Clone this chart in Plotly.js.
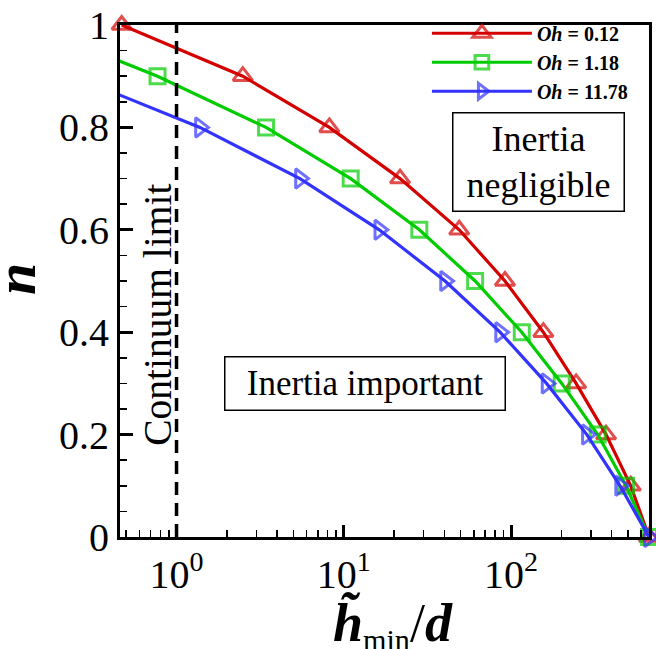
<!DOCTYPE html>
<html><head><meta charset="utf-8">
<script src="https://cdn.plot.ly/plotly-3.0.1.min.js"></script>
<style>body{margin:0;background:#fff;} #chart{width:656px;height:649px;}</style>
</head><body><div id="chart"></div>
<script>
// n values at which each curve is marked
const nLevels = [1.0, 0.9, 0.8, 0.7, 0.6, 0.5, 0.4, 0.3, 0.2, 0.1, 0.0];
// h_min/d for each curve (first points of green/blue lie left of the visible range)
const hRed   = [0.47, 2.49, 8.2, 21.7, 49, 92, 156, 245, 370, 520, 668];
const hGreen = [0.13, 0.77, 3.43, 11.0, 28.3, 61, 116, 201, 330, 487, 668];
const hBlue  = [0.042, 0.24, 1.38, 5.47, 16.3, 40.3, 86, 163, 284, 449, 668];
const seriesNames = ['<b><i>Oh</i> = 0.12</b>', '<b><i>Oh</i> = 1.18</b>', '<b><i>Oh</i> = 11.78</b>'];
const xMajorVals = [1, 10, 100];
const xMajorText = ['10<sup>0</sup>', '10<sup>1</sup>', '10<sup>2</sup>'];
const xMinorVals = [0.5,0.6,0.7,0.8,0.9, 2,3,4,5,6,7,8,9, 20,30,40,50,60,70,80,90, 200,300,400,500,600];
const continuumX = 1;
const xTitle = '<span style="font-size:54px"><b><i>h\u0303</i></b></span><sub>min</sub><span style="font-size:54px">/<b><i>d</i></b></span>';
const yTitle = '<b><i>n</i></b>';

const xRangeLog = [-0.338, 2.825];
const xMin = Math.pow(10, xRangeLog[0]);
const FONT = 'Liberation Serif';

function mk(x, name, color, symbol, size) {
  return {
    x: x, y: nLevels, name: name, type: 'scatter', mode: 'lines+markers',
    line: {color: color, width: 3.2},
    marker: {symbol: symbol, color: color, size: x.map(v => v >= xMin*0.98 ? size : 0),
             line: {color: color, width: 3}},
    cliponaxis: false
  };
}
const traces = [
  mk(hRed, seriesNames[0], '#d40000', 'triangle-up-open', 17),
  mk(hGreen, seriesNames[1], '#00cc00', 'square-open', 15),
  mk(hBlue, seriesNames[2], '#3333ff', 'triangle-right-open', 17)
];

const layout = {
  width: 656, height: 649,
  margin: {l: 120, r: 7, t: 25, b: 112},
  paper_bgcolor: '#fff', plot_bgcolor: '#fff',
  font: {family: FONT, color: '#000', size: 40},
  showlegend: true,
  legend: {x: 0.9696, xanchor: 'right', y: 1.022, yanchor: 'top', bgcolor: 'rgba(0,0,0,0)',
           font: {family: FONT, size: 20, color: '#000'}, itemwidth: 100, tracegroupgap: 0},
  xaxis: {
    type: 'log', range: xRangeLog, showgrid: false, zeroline: false,
    showline: true, linewidth: 3, linecolor: '#000', mirror: true,
    tickmode: 'array', tickvals: xMajorVals, ticktext: xMajorText,
    ticks: 'inside', ticklen: 12, tickwidth: 3, tickcolor: '#000',
    tickfont: {family: FONT, size: 40},
    minor: {tickmode: 'array', tickvals: xMinorVals, ticks: 'inside', ticklen: 7, tickwidth: 1.5, tickcolor: '#000', showgrid: false}
  },
  yaxis: {
    range: [0, 1], dtick: 0.2, showgrid: false, zeroline: false,
    showline: true, linewidth: 3, linecolor: '#000', mirror: true,
    ticks: 'inside', ticklen: 13, tickwidth: 3, tickcolor: '#000',
    tickfont: {family: FONT, size: 40},
    minor: {dtick: 0.05, ticks: 'inside', ticklen: 7, tickwidth: 1.5, tickcolor: '#000', showgrid: false}
  },
  shapes: [{type: 'line', xref: 'x', yref: 'y', x0: continuumX, x1: continuumX, y0: 0, y1: 1,
            line: {color: '#000', width: 3.5, dash: '13px,8px'}}],
  annotations: [
    {text: xTitle, xref: 'paper', yref: 'paper', x: 0.516, y: -0.171, xanchor: 'center', yanchor: 'middle',
     showarrow: false, font: {family: FONT, size: 43, color: '#000'}},
    {text: yTitle, textangle: -90, xref: 'paper', yref: 'paper', x: -0.1966, y: 0.504, xanchor: 'center', yanchor: 'middle',
     showarrow: false, font: {family: FONT, size: 58, color: '#000'}},
    {text: 'Continuum limit', textangle: -90, xref: 'paper', yref: 'paper', x: 0.0718, y: 0.434,
     xanchor: 'center', yanchor: 'middle',
     showarrow: false, font: {family: FONT, size: 39.5, color: '#000'}},
    {text: 'Inertia<br>negligible', xref: 'paper', yref: 'paper', x: 0.791, y: 0.733,
     xanchor: 'center', yanchor: 'middle',
     showarrow: false, font: {family: FONT, size: 36, color: '#000'},
     bordercolor: '#000', borderwidth: 1.5, bgcolor: '#fff', borderpad: 2, width: 166, height: 93},
    {text: 'Inertia important', xref: 'paper', yref: 'paper', x: 0.463, y: 0.30,
     xanchor: 'center', yanchor: 'middle',
     showarrow: false, font: {family: FONT, size: 35, color: '#000'},
     bordercolor: '#000', borderwidth: 1.5, bgcolor: '#fff', borderpad: 2, width: 275, height: 48}
  ]
};
Plotly.newPlot('chart', traces, layout, {displayModeBar: false, staticPlot: true});
</script>
</body></html>
